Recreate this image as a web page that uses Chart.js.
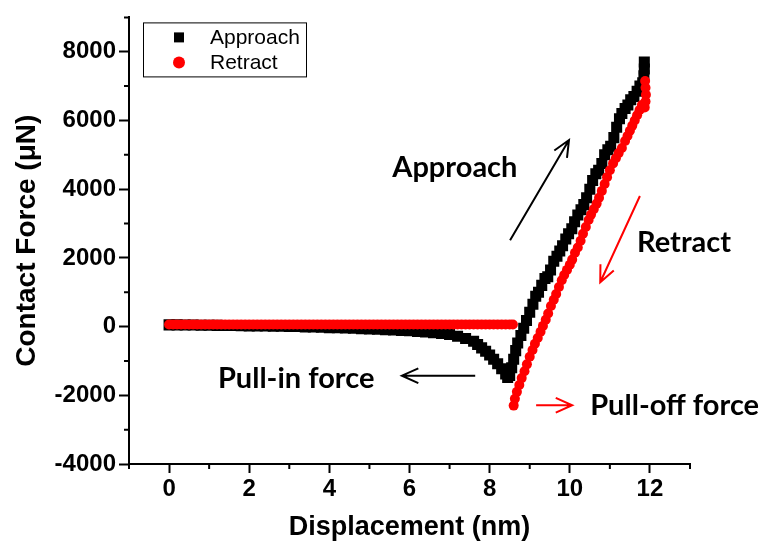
<!DOCTYPE html>
<html>
<head>
<meta charset="utf-8">
<script src="https://cdn.jsdelivr.net/npm/chart.js@4.4.0/dist/chart.umd.min.js"></script>
<style>
    html, body { margin: 0; padding: 0; background: #fff; }
</style>
</head>
<body>
<canvas id="myChart" width="765" height="557"></canvas>
<script>
// Approach curve (black squares)
const approachX = [
    0, 0.2, 0.4, 0.6, 0.8, 1.0, 1.2, 1.4, 1.6, 1.8,
    2.0, 2.2, 2.4, 2.6, 2.8, 3.0, 3.2, 3.4, 3.6, 3.8,
    4.0, 4.2, 4.4, 4.6, 4.8, 5.0, 5.2, 5.4, 5.6, 5.8,
    6.0, 6.2, 6.4, 6.6, 6.8, 7.0, 7.2, 7.4, 7.6,
    7.7, 7.8, 7.9, 8.0, 8.1, 8.2, 8.3, 8.4,
    8.45, 8.5, 8.55, 8.6, 8.65, 8.7,
    8.78, 8.85, 8.92, 9.0, 9.08, 9.15, 9.22, 9.3, 9.38, 9.45,
    9.52, 9.6, 9.68, 9.75, 9.82, 9.9, 9.97, 10.05, 10.12, 10.2,
    10.28, 10.35, 10.42, 10.5, 10.57, 10.65, 10.72, 10.8, 10.87, 10.95,
    11.02, 11.1, 11.17, 11.24, 11.3, 11.38, 11.45, 11.52, 11.6, 11.68,
    11.75, 11.82, 11.85, 11.86, 11.86
];
const approachY = [
    50, 50, 45, 45, 40, 40, 35, 30, 30, 25,
    20, 20, 15, 10, 10, 0, 0, -10, -15, -20,
    -30, -35, -40, -50, -60, -70, -80, -90, -100, -110,
    -120, -140, -160, -180, -200, -230, -280, -350, -430,
    -520, -620, -720, -830, -950, -1080, -1230, -1380,
    -1480, -1420, -1200, -950, -700, -480,
    -260, -50, 180, 420, 650, 880, 1000, 1200, 1400, 1450,
    1650, 1900, 2050, 2200, 2350, 2550, 2700, 2850, 3050, 3250,
    3400, 3550, 3750, 4000, 4250, 4450, 4550, 4750, 5000, 5150,
    5250, 5500, 5800, 6050, 6200, 6350, 6450, 6600, 6700, 6850,
    7000, 7100, 7300, 7500, 7700
];

// Retract curve (red circles): ramp down, then the flat part back to 0
const retractRampX = [
    11.88, 11.89, 11.9, 11.89, 11.87, 11.8, 11.74, 11.68, 11.62, 11.56,
    11.5, 11.44, 11.38, 11.3, 11.22, 11.15, 11.08, 11.0, 10.93, 10.87,
    10.8, 10.73, 10.67, 10.6, 10.53, 10.47, 10.4, 10.33, 10.27, 10.2,
    10.13, 10.06, 10.0, 9.93, 9.86, 9.8, 9.73, 9.66, 9.6, 9.53,
    9.46, 9.4, 9.33, 9.27, 9.2, 9.13, 9.07, 9.0, 8.93, 8.87,
    8.8, 8.74, 8.68, 8.63, 8.6
];
const retractRampY = [
    7150, 6950, 6750, 6550, 6380, 6450, 6300, 6150, 6000, 5850,
    5700, 5550, 5400, 5200, 5050, 4900, 4750, 4550, 4350, 4150,
    3950, 3750, 3580, 3420, 3260, 3100, 2900, 2700, 2500, 2300,
    2150, 1950, 1800, 1650, 1500, 1350, 1150, 950, 780, 600,
    380, 200, 20, -150, -330, -500, -680, -880, -1100, -1300,
    -1500, -1700, -1900, -2100, -2300
];
const retractFlatX = [
    8.58, 8.5, 8.4, 8.3, 8.2, 8.1, 8.0, 7.9, 7.8, 7.7, 7.6,
    7.5, 7.4, 7.3, 7.2, 7.1, 7.0, 6.9, 6.8, 6.7, 6.6,
    6.5, 6.4, 6.3, 6.2, 6.1, 6.0, 5.9, 5.8, 5.7, 5.6,
    5.5, 5.4, 5.3, 5.2, 5.1, 5.0, 4.9, 4.8, 4.7, 4.6,
    4.5, 4.4, 4.3, 4.2, 4.1, 4.0, 3.9, 3.8, 3.7, 3.6,
    3.5, 3.4, 3.3, 3.2, 3.1, 3.0, 2.9, 2.8, 2.7, 2.6,
    2.5, 2.4, 2.3, 2.2, 2.1, 2.0, 1.9, 1.8, 1.7, 1.6,
    1.5, 1.4, 1.3, 1.2, 1.1, 1.0, 0.9, 0.8, 0.7, 0.6,
    0.5, 0.4, 0.3, 0.2, 0.1, 0
];
const retractFlatY = [
    60, 60, 60, 60, 60, 60, 60, 60, 60, 60, 60,
    60, 60, 60, 60, 60, 60, 60, 60, 60, 60,
    60, 60, 60, 60, 60, 60, 60, 60, 60, 60,
    60, 60, 60, 60, 60, 60, 60, 60, 60, 60,
    60, 60, 60, 60, 60, 60, 60, 60, 60, 60,
    60, 60, 60, 60, 60, 60, 60, 60, 60, 60,
    60, 60, 60, 60, 60, 60, 60, 60, 60, 60,
    60, 60, 60, 60, 60, 60, 60, 60, 60, 60,
    60, 60, 60, 60, 60, 60
];

const retractX = retractRampX.concat(retractFlatX);
const retractY = retractRampY.concat(retractFlatY);

// annotations, in data units
const notes = [
    { text: 'Approach', x: 5.57, y: 4630 },
    { text: 'Retract', x: 11.68, y: 2430 },
    { text: 'Pull-in force', x: 1.22, y: -1510 },
    { text: 'Pull-off force', x: 10.51, y: -2290 }
];
const arrows = [
    { from: [8.51, 2510], to: [9.98, 5430], color: '#000' },
    { from: [11.75, 3800], to: [10.76, 1290], color: '#ff0000' },
    { from: [7.64, -1430], to: [5.81, -1430], color: '#000' },
    { from: [9.16, -2290], to: [10.06, -2290], color: '#ff0000' }
];

const toPoints = (xs, ys) => xs.map((x, i) => ({ x: x, y: ys[i] }));

const FONT = "'Liberation Sans', Arial, sans-serif";

// short ticks at the odd values
const minorTicks = {
    id: 'minorTicks',
    afterDraw(chart) {
        const { ctx, scales: { x, y } } = chart;
        ctx.save();
        ctx.strokeStyle = '#000';
        ctx.lineWidth = 2;
        ctx.beginPath();
        x.ticks.forEach((t) => {
            if (Math.abs(t.value % 2) === 1) {
                const px = x.getPixelForValue(t.value);
                ctx.moveTo(px, y.bottom);
                ctx.lineTo(px, y.bottom + 5);
            }
        });
        y.ticks.forEach((t) => {
            if (t.value % 2000 !== 0) {
                const py = y.getPixelForValue(t.value);
                ctx.moveTo(x.left, py);
                ctx.lineTo(x.left - 5, py);
            }
        });
        ctx.stroke();
        ctx.restore();
    }
};

function drawArrow(ctx, x1, y1, x2, y2, color) {
    const ang = Math.atan2(y2 - y1, x2 - x1);
    const head = 18;
    ctx.strokeStyle = color;
    ctx.lineWidth = 2;
    ctx.beginPath();
    ctx.moveTo(x1, y1);
    ctx.lineTo(x2, y2);
    ctx.moveTo(x2 - head * Math.cos(ang - 0.42), y2 - head * Math.sin(ang - 0.42));
    ctx.lineTo(x2, y2);
    ctx.lineTo(x2 - head * Math.cos(ang + 0.42), y2 - head * Math.sin(ang + 0.42));
    ctx.stroke();
}

const notesPlugin = {
    id: 'notes',
    afterDatasetsDraw(chart) {
        const { ctx, scales: { x, y } } = chart;
        ctx.save();
        arrows.forEach((a) => {
            drawArrow(ctx, x.getPixelForValue(a.from[0]), y.getPixelForValue(a.from[1]),
                x.getPixelForValue(a.to[0]), y.getPixelForValue(a.to[1]), a.color);
        });
        ctx.fillStyle = '#000';
        ctx.font = "bold 29px Lato, 'Open Sans', sans-serif";
        ctx.textAlign = 'left';
        ctx.textBaseline = 'middle';
        notes.forEach((n) => {
            ctx.fillText(n.text, x.getPixelForValue(n.x), y.getPixelForValue(n.y));
        });
        ctx.restore();
    }
};

// framed legend in the upper left corner
const boxLegend = {
    id: 'boxLegend',
    afterDraw(chart) {
        const { ctx, chartArea } = chart;
        const left = chartArea.left + 14;
        const top = chartArea.top + 5;
        ctx.save();
        ctx.fillStyle = '#fff';
        ctx.fillRect(left, top, 163, 54);
        ctx.strokeStyle = '#000';
        ctx.lineWidth = 1;
        ctx.strokeRect(left + 0.5, top + 0.5, 163, 54);
        ctx.font = '21px ' + FONT;
        ctx.textBaseline = 'middle';
        chart.data.datasets.forEach((ds, i) => {
            const cx = left + 36;
            const cy = top + 15 + i * 25;
            ctx.fillStyle = ds.backgroundColor;
            if (ds.pointStyle === 'rect') {
                ctx.fillRect(cx - 5, cy - 5, 10, 10);
            } else {
                ctx.beginPath();
                ctx.arc(cx, cy, 6, 0, Math.PI * 2);
                ctx.fill();
            }
            ctx.fillStyle = '#000';
            ctx.fillText(ds.label, left + 67, cy + 1);
        });
        ctx.restore();
    }
};

const ctx = document.getElementById('myChart');

const chartConfig = {
    type: 'scatter',
    data: {
        datasets: [{
            label: 'Approach',
            data: toPoints(approachX, approachY),
            pointStyle: 'rect',
            pointRadius: 7.8,
            backgroundColor: '#000',
            borderColor: '#000',
            borderWidth: 0,
            order: 1
        }, {
            label: 'Retract',
            data: toPoints(retractX, retractY),
            pointStyle: 'circle',
            pointRadius: 5,
            backgroundColor: '#ff0000',
            borderColor: '#ff0000',
            borderWidth: 0,
            order: 0
        }]
    },
    options: {
        responsive: false,
        animation: false,
        events: [],
        layout: { padding: { top: 9, right: 75, left: 0, bottom: 0 } },
        plugins: {
            legend: { display: false },
            tooltip: { enabled: false }
        },
        scales: {
            x: {
                type: 'linear',
                min: -1,
                max: 13,
                afterFit: (scale) => { scale.height = 93; },
                border: { color: '#000', width: 2 },
                grid: {
                    drawOnChartArea: false,
                    tickLength: 9,
                    tickWidth: 2,
                    tickColor: (c) => (c.tick && c.tick.value % 2 === 0 ? '#000' : 'rgba(0,0,0,0)')
                },
                ticks: {
                    stepSize: 1,
                    autoSkip: false,
                    maxRotation: 0,
                    padding: 2,
                    color: '#000',
                    font: { family: FONT, size: 24, weight: 'bold' },
                    callback: (v) => (v % 2 === 0 ? String(v) : '')
                },
                title: {
                    display: true,
                    text: 'Displacement (nm)',
                    color: '#000',
                    font: { family: FONT, size: 27, weight: 'bold' },
                    padding: { top: 0, bottom: 13 }
                }
            },
            y: {
                type: 'linear',
                min: -4000,
                max: 9000,
                afterFit: (scale) => { scale.width = 129; },
                border: { color: '#000', width: 2 },
                grid: {
                    drawOnChartArea: false,
                    tickLength: 10,
                    tickWidth: 2,
                    tickColor: (c) => (c.tick && c.tick.value % 2000 === 0 ? '#000' : 'rgba(0,0,0,0)')
                },
                ticks: {
                    stepSize: 1000,
                    autoSkip: false,
                    padding: 3,
                    color: '#000',
                    font: { family: FONT, size: 24, weight: 'bold' },
                    callback: (v) => (v % 2000 === 0 ? String(v) : '')
                },
                title: {
                    display: true,
                    text: 'Contact Force (μN)',
                    color: '#000',
                    font: { family: FONT, size: 28, weight: 'bold' },
                    padding: { top: 10, bottom: 0 }
                }
            }
        }
    },
    plugins: [minorTicks, notesPlugin, boxLegend]
};

new Chart(ctx, chartConfig);
</script>
</body>
</html>
